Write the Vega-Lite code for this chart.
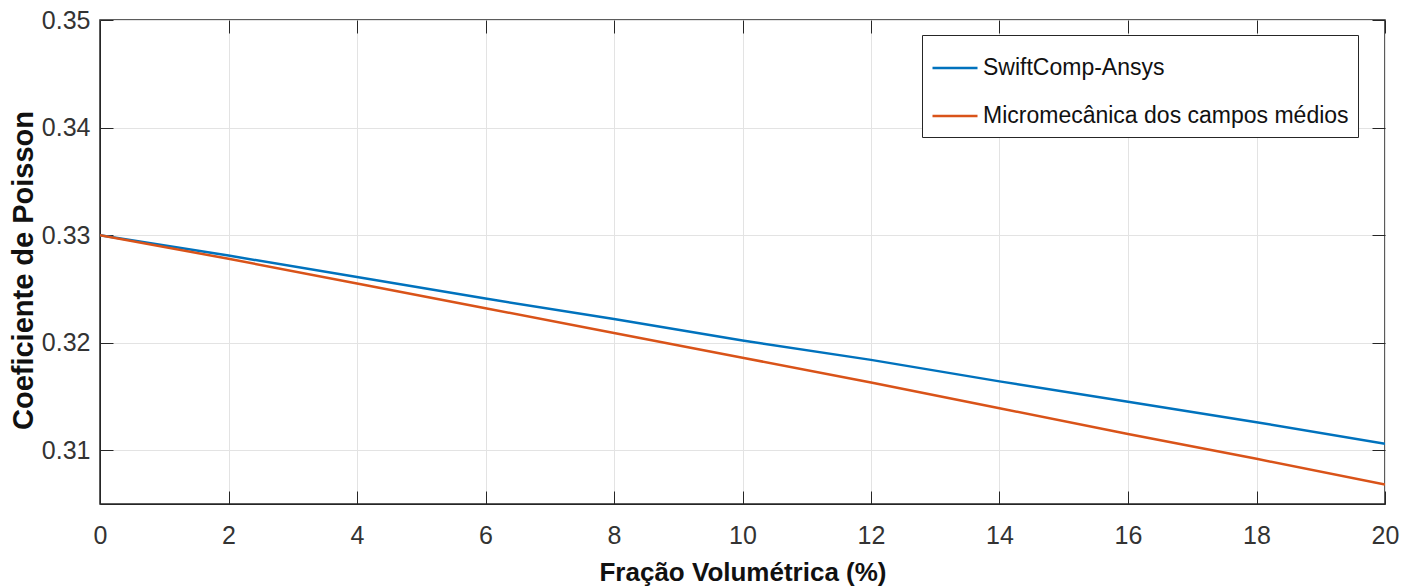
{
  "$schema": "https://vega.github.io/schema/vega-lite/v6.json",
  "autosize": {"type": "none"},
  "width": 1285,
  "height": 484,
  "padding": {"left": 100, "top": 20, "right": 32, "bottom": 83},
  "background": "white",
  "config": {
    "font": "Liberation Sans",
    "view": {"stroke": "#262626", "strokeWidth": 1.5},
    "axis": {
      "domainColor": "#262626",
      "tickColor": "#262626",
      "labelColor": "#333333",
      "titleColor": "#111111",
      "gridColor": "#e3e3e3",
      "gridWidth": 1,
      "tickSize": -13,
      "labelFontSize": 25,
      "titleFontSize": 26,
      "titleFontWeight": "bold",
      "labelFont": "Liberation Sans",
      "titleFont": "Liberation Sans"
    }
  },
  "data": {
    "values": [
      {"x": 0, "y": 0.33, "s": "SwiftComp-Ansys"},
      {"x": 2, "y": 0.3281, "s": "SwiftComp-Ansys"},
      {"x": 4, "y": 0.3261, "s": "SwiftComp-Ansys"},
      {"x": 6, "y": 0.3241, "s": "SwiftComp-Ansys"},
      {"x": 8, "y": 0.3222, "s": "SwiftComp-Ansys"},
      {"x": 10, "y": 0.3202, "s": "SwiftComp-Ansys"},
      {"x": 12, "y": 0.3184, "s": "SwiftComp-Ansys"},
      {"x": 14, "y": 0.3164, "s": "SwiftComp-Ansys"},
      {"x": 16, "y": 0.3145, "s": "SwiftComp-Ansys"},
      {"x": 18, "y": 0.3126, "s": "SwiftComp-Ansys"},
      {"x": 20, "y": 0.3106, "s": "SwiftComp-Ansys"},
      {"x": 0, "y": 0.33, "s": "Micromecânica dos campos médios"},
      {"x": 2, "y": 0.3278, "s": "Micromecânica dos campos médios"},
      {"x": 4, "y": 0.3255, "s": "Micromecânica dos campos médios"},
      {"x": 6, "y": 0.3232, "s": "Micromecânica dos campos médios"},
      {"x": 8, "y": 0.3209, "s": "Micromecânica dos campos médios"},
      {"x": 10, "y": 0.3186, "s": "Micromecânica dos campos médios"},
      {"x": 12, "y": 0.3163, "s": "Micromecânica dos campos médios"},
      {"x": 14, "y": 0.3139, "s": "Micromecânica dos campos médios"},
      {"x": 16, "y": 0.3115, "s": "Micromecânica dos campos médios"},
      {"x": 18, "y": 0.3092, "s": "Micromecânica dos campos médios"},
      {"x": 20, "y": 0.3068, "s": "Micromecânica dos campos médios"}
    ]
  },
  "layer": [
    {
      "mark": {"type": "line", "strokeWidth": 2.5, "clip": true},
      "encoding": {
        "x": {
          "field": "x", "type": "quantitative",
          "scale": {"domain": [0, 20], "nice": false, "zero": false},
          "axis": {"values": [0, 2, 4, 6, 8, 10, 12, 14, 16, 18, 20], "title": "Fração Volumétrica (%)", "labelPadding": 32, "titlePadding": 11, "labelFlush": false, "labelBound": false, "grid": true}
        },
        "y": {
          "field": "y", "type": "quantitative",
          "scale": {"domain": [0.305, 0.35], "nice": false, "zero": false},
          "axis": {"values": [0.31, 0.32, 0.33, 0.34, 0.35], "format": ".2f", "title": "Coeficiente de Poisson", "titleFontSize": 29, "titleY": 250, "labelPadding": 23, "titlePadding": 3, "labelFlush": false, "labelBound": false, "grid": true}
        },
        "color": {
          "field": "s", "type": "nominal",
          "scale": {"domain": ["SwiftComp-Ansys", "Micromecânica dos campos médios"], "range": ["#0072BD", "#D95319"]},
          "legend": {
            "title": null,
            "orient": "none",
            "legendX": 822,
            "legendY": 15,
            "strokeColor": "#262626",
            "fillColor": "white",
            "padding": 9,
            "symbolType": "stroke",
            "symbolSize": 2025,
            "symbolStrokeWidth": 2.5,
            "labelFontSize": 23,
            "labelColor": "#111111",
            "labelFont": "Liberation Sans",
            "labelLimit": 600,
            "rowPadding": 12,
            "labelOffset": 4
          }
        }
      }
    },
    {
      "mark": {"type": "line", "opacity": 0},
      "encoding": {
        "x": {"field": "x", "type": "quantitative", "axis": {"orient": "top", "values": [0, 2, 4, 6, 8, 10, 12, 14, 16, 18, 20], "labels": false, "title": null, "grid": false, "domain": false}},
        "y": {"field": "y", "type": "quantitative", "axis": {"orient": "right", "values": [0.31, 0.32, 0.33, 0.34, 0.35], "labels": false, "title": null, "grid": false, "domain": false}}
      }
    }
  ],
  "resolve": {"axis": {"x": "independent", "y": "independent"}}
}
